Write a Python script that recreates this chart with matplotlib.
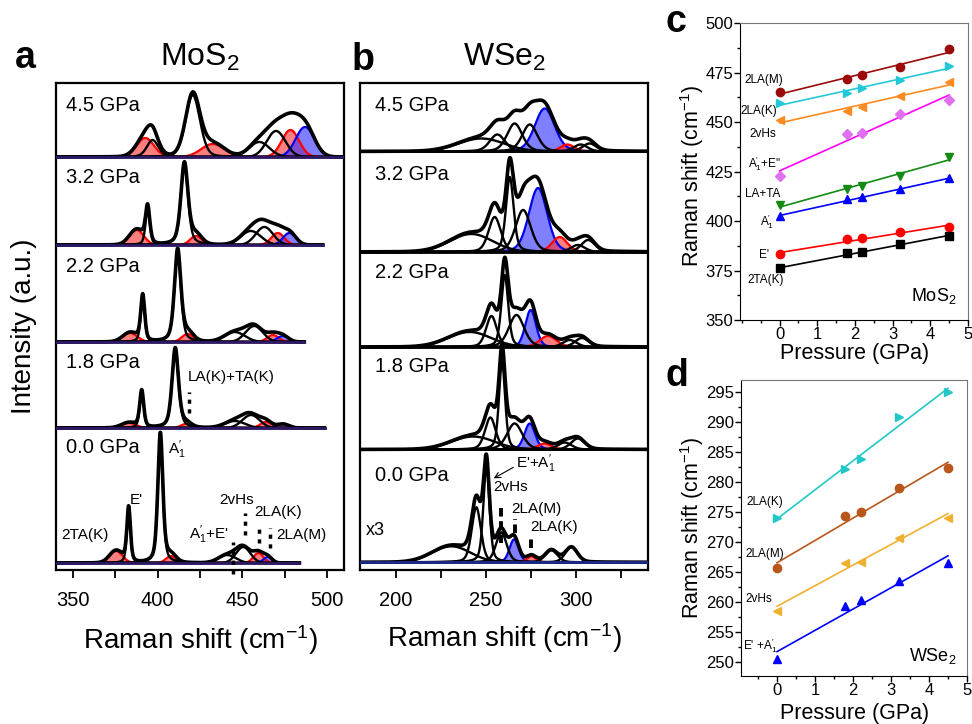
import numpy as np
import matplotlib
matplotlib.use('Agg')
import matplotlib.pyplot as plt
from matplotlib.ticker import MultipleLocator

plt.rcParams['font.family'] = ['Liberation Sans', 'DejaVu Sans']
plt.rcParams['mathtext.fontset'] = 'custom'
plt.rcParams['mathtext.rm'] = 'Liberation Sans'
plt.rcParams['mathtext.it'] = 'Liberation Sans:italic'
plt.rcParams['mathtext.bf'] = 'Liberation Sans:bold'

# ---- data ----
pressure = [0.0, 1.8, 2.2, 3.2, 4.5]

# panel c, MoS2 mode positions (cm-1)
mos2_2LAM = [465.2, 471.9, 473.6, 477.8, 486.7]
mos2_2LAK = [459.6, 464.5, 467.4, 471.1, 478.3]
mos2_2vHs = [451.2, 455.5, 457.6, 463.2, 470.0]
mos2_A1E2 = [422.8, 443.7, 444.5, 454.3, 461.0]
mos2_LATA = [408.0, 416.4, 417.8, 422.6, 432.4]
mos2_A1 = [402.5, 410.9, 411.9, 416.1, 421.5]
mos2_E1 = [383.1, 390.7, 391.2, 394.2, 397.1]
mos2_2TAK = [376.1, 383.6, 384.1, 388.2, 392.5]

# panel d, WSe2 mode positions (cm-1)
wse2_2LAK = [273.9, 282.2, 283.9, 290.8, 295.0]
wse2_2LAM = [265.6, 274.3, 274.9, 278.9, 282.4]
wse2_2vHs = [258.5, 266.5, 266.7, 270.7, 274.0]
wse2_EA1 = [250.4, 259.3, 260.3, 263.4, 266.5]

# fitted Raman components: (colour, centre cm-1, height, fwhm, lorentz fraction)
mos2_peaks = {
    4.5: [('r', 392.7, 19, 12, 0), ('k', 397.0, 17, 8, 0.3), ('k', 420.7, 62, 10, 0.2),
          ('r', 432.5, 13, 16, 0), ('k', 460.0, 15, 14, 0), ('k', 469.9, 26, 13, 0),
          ('r', 478.4, 27, 12, 0), ('b', 487.0, 30, 13, 0)],
    3.2: [('r', 387.6, 15, 10, 0), ('k', 394.1, 36, 3, 0.5), ('k', 415.8, 82, 5, 0.5),
          ('r', 422.6, 9, 8, 0), ('k', 455.0, 14, 14, 0), ('k', 463.0, 18, 12, 0),
          ('r', 470.9, 12, 9, 0), ('b', 477.8, 12, 9, 0)],
    2.2: [('r', 383.7, 9, 10, 0), ('k', 391.2, 46, 2.8, 0.5), ('k', 411.8, 92, 4.5, 0.5),
          ('r', 417.7, 8, 8, 0), ('k', 445.5, 10, 14, 0), ('k', 457.0, 16, 12, 0),
          ('r', 468.0, 7, 8, 0), ('b', 473.9, 6, 8, 0)],
    1.8: [('r', 382.9, 5, 10, 0), ('k', 390.6, 37, 2.8, 0.5), ('k', 410.4, 80, 4.5, 0.5),
          ('r', 416.7, 4, 7, 0), ('k', 445.5, 7, 14, 0), ('k', 455.1, 13, 12, 0),
          ('r', 464.0, 6, 8, 0), ('b', 474.0, 4, 8, 0)],
    0.0: [('r', 375.4, 12, 9, 0), ('k', 382.9, 55, 2.5, 0.5), ('k', 401.6, 130, 3.5, 0.5),
          ('r', 407.9, 7, 7, 0), ('k', 441.0, 8, 12, 0), ('k', 450.5, 16, 10, 0),
          ('r', 459.5, 10, 7, 0), ('b', 465.0, 6, 6, 0)],
}
mos2_end = {4.5: 510, 3.2: 497.5, 2.2: 486.6, 1.8: 498.5, 0.0: 483.7}

wse2_peaks = {
    4.5: [('k', 247.4, 13, 30, 0), ('k', 256.3, 17, 10, 0.3), ('k', 265.9, 28, 10, 0.3),
          ('k', 274.3, 27, 10, 0.3), ('b', 282.6, 43, 13, 0.2), ('r', 295.2, 7, 9, 0.2),
          ('k', 302.5, 7, 9, 0.2), ('k', 307.5, 8, 9, 0.2)],
    3.2: [('k', 241.8, 18, 28, 0), ('k', 254.8, 35, 8, 0.3), ('k', 263.2, 75, 5, 0.4),
          ('k', 270.6, 42, 10, 0.3), ('b', 278.9, 64, 12, 0.2), ('r', 290.9, 15, 10, 0.2),
          ('k', 301.0, 7, 9, 0.2), ('k', 306.7, 12, 9, 0.2)],
    2.2: [('k', 240.9, 15, 28, 0), ('k', 253.0, 31, 7, 0.3), ('k', 260.4, 72, 4.5, 0.4),
          ('k', 266.9, 32, 10, 0.3), ('b', 274.8, 37, 7, 0.2), ('r', 284.4, 11, 11, 0.2),
          ('k', 296.5, 7, 9, 0.2), ('k', 303.3, 9, 9, 0.2)],
    1.8: [('k', 242.8, 13, 28, 0), ('k', 252.4, 32, 7, 0.3), ('k', 258.9, 88, 4, 0.4),
          ('k', 265.9, 26, 10, 0.3), ('b', 274.3, 26, 7, 0.2), ('r', 282.6, 6, 9, 0.2),
          ('k', 293.7, 7, 9, 0.2), ('k', 301.0, 11, 9, 0.2)],
    0.0: [('k', 230.7, 16, 25, 0), ('k', 244.6, 55, 6, 0.3), ('k', 250.2, 96, 4, 0.4),
          ('k', 258.5, 30, 7, 0.3), ('b', 265.6, 23, 6, 0.2), ('r', 275.2, 6, 6, 0.2),
          ('k', 286.3, 12, 8, 0.2), ('k', 297.4, 15, 8, 0.2)],
}

# vertical offsets of each spectrum in the stacks, and label heights
mos2_base = {4.5: 413, 3.2: 325, 2.2: 228, 1.8: 142, 0.0: 7}
mos2_lab_y = {4.5: 464, 3.2: 392, 2.2: 303, 1.8: 207, 0.0: 122}
wse2_base = {4.5: 418.5, 3.2: 318, 2.2: 223, 1.8: 120.5, 0.0: 7.7}
wse2_lab_y = {4.5: 464, 3.2: 395, 2.2: 297, 1.8: 203, 0.0: 94}

FILL = {'r': '#ff2a2a', 'b': '#2a2aff'}
EDGE = {'r': '#ff0000', 'b': '#0000ee'}


def profile(x, c, h, w, eta):
    g = np.exp(-4 * np.log(2) * ((x - c) / w) ** 2)
    l = 1.0 / (1 + 4 * ((x - c) / w) ** 2)
    return h * (eta * l + (1 - eta) * g)


def draw_spectrum(ax, x, peaks, base):
    total = np.zeros_like(x)
    comps = []
    for col, c, h, w, eta in peaks:
        y = profile(x, c, h, w, eta)
        total += y
        comps.append((col, y))
    for col, y in comps:
        if col != 'k':
            ax.fill_between(x, base, base + y, color=FILL[col], alpha=0.6, lw=0, zorder=2)
            ax.plot(x, base + y, color=EDGE[col], lw=1.6, zorder=3)
    for col, y in comps:
        if col == 'k':
            ax.plot(x, base + y, color='k', lw=1.7, zorder=4)
    ax.plot(x, base + total, color='k', lw=2.6, zorder=5)


fig = plt.figure(figsize=(9.72, 7.24), dpi=100)

ax_a = fig.add_axes([0.0576, 0.2127, 0.2963, 0.6727])
ax_b = fig.add_axes([0.3704, 0.2127, 0.2963, 0.6727])
ax_c = fig.add_axes([0.7613, 0.558, 0.2346, 0.4102])
ax_d = fig.add_axes([0.7623, 0.0663, 0.2325, 0.4088])

# ---- panel a ----
for p in pressure:
    x = np.linspace(340, mos2_end[p], 900)
    draw_spectrum(ax_a, x, mos2_peaks[p], mos2_base[p])
    ax_a.plot([340, mos2_end[p]], [mos2_base[p]] * 2, color='#2e1a66', lw=2, zorder=6)
    ax_a.text(346, mos2_lab_y[p], '%.1f GPa' % p, fontsize=14.5, va='center', ha='left')
ax_a.set_xlim(340, 510)
ax_a.set_ylim(0, 487)

ann = 11
A1 = r'$\mathregular{A_1^{\prime}}$'
ax_a.text(357, 35, '2TA(K)', fontsize=ann, ha='center', va='center')
ax_a.text(383.7, 70, "E'", fontsize=ann, ha='left', va='center')
ax_a.text(405.9, 120, A1, fontsize=ann, ha='left', va='center')
ax_a.text(436.2, 70, '2vHs', fontsize=ann, ha='left', va='center')
ax_a.text(457, 58, '2LA(K)', fontsize=ann, ha='left', va='center')
ax_a.text(418.5, 35, A1 + "+E'", fontsize=ann, ha='left', va='center')
ax_a.text(470, 35, '2LA(M)', fontsize=ann, ha='left', va='center')
ax_a.text(417.7, 193, 'LA(K)+TA(K)', fontsize=ann, ha='left', va='center')
for xv, y0, y1 in [(418.3, 157, 178), (451.8, 35, 57), (460, 27, 44), (466.4, 22, 42), (444.3, -4, 28)]:
    ax_a.plot([xv, xv], [y0, y1], color='k', lw=2.5, ls=(0, (1.2, 1.6)), zorder=7, clip_on=False)

# ---- panel b ----
for p in pressure:
    x = np.linspace(180, 340, 900)
    draw_spectrum(ax_b, x, wse2_peaks[p], wse2_base[p])
    if p == 0.0:
        ax_b.axhline(wse2_base[p], color='#1c2a8c', lw=2, zorder=6)
    else:
        ax_b.axhline(wse2_base[p], color='k', lw=2, zorder=6)
    ax_b.text(188.3, wse2_lab_y[p], '%.1f GPa' % p, fontsize=14.5, va='center', ha='left')
ax_b.set_xlim(180, 340)
ax_b.set_ylim(0, 487)
ax_b.text(266.7, 106, "E'+" + A1, fontsize=ann, ha='left', va='center')
ax_b.annotate('', xy=(252.9, 90.3), xytext=(266.5, 104),
              arrowprops=dict(arrowstyle='->', color='k', lw=0.8), zorder=8)
ax_b.text(253.9, 83, '2vHs', fontsize=ann, ha='left', va='center')
ax_b.text(264, 61, '2LA(M)', fontsize=ann, ha='left', va='center')
ax_b.text(274.4, 43, '2LA(K)', fontsize=ann, ha='left', va='center')
ax_b.text(183.3, 40, 'x3', fontsize=13, ha='left', va='center')
for xv, y0, y1 in [(258.5, 27, 63.7), (265.9, 37, 51), (275.2, 22, 33.7)]:
    ax_b.plot([xv, xv], [y0, y1], color='k', lw=2.8, ls=(0, (2.2, 1.2)), zorder=7)

for ax in (ax_a, ax_b):
    ax.xaxis.set_major_locator(MultipleLocator(50))
    ax.xaxis.set_minor_locator(MultipleLocator(25))
    ax.tick_params(axis='x', which='both', direction='out', length=6, width=1.3,
                   labelsize=14.5, pad=9)
    ax.set_yticks([])
    for s in ax.spines.values():
        s.set_linewidth(1.6)

# ---- panels c and d ----
c_series = [
    (mos2_2LAM, 'o', '#9b0a0a', '#9b0a0a', '2LA(M)', -0.42, 471),
    (mos2_2LAK, '>', '#22c8d8', '#22c8d8', '2LA(K)', -0.54, 455.6),
    (mos2_2vHs, '<', '#ff8a1f', '#ff8a1f', '2vHs', -0.45, 444),
    (mos2_A1E2, 'D', '#e070f0', '#ff00ff', r"$\mathregular{A_1^{\prime}}$+E''", -0.4, 429),
    (mos2_LATA, 'v', '#138a13', '#138a13', 'LA+TA', -0.45, 413.6),
    (mos2_A1, '^', '#0000ff', '#0000ff', r'$\mathregular{A_1^{\prime}}$', -0.34, 399.6),
    (mos2_E1, 'o', '#ff0000', '#ff0000', "E'", -0.4, 382.8),
    (mos2_2TAK, 's', '#000000', '#000000', '2TA(K)', -0.37, 370),
]
d_series = [
    (wse2_2LAK, '>', '#22c8c8', '#22c8c8', '2LA(K)', -0.31, 276.7),
    (wse2_2LAM, 'o', '#b8561b', '#b8561b', '2LA(M)', -0.31, 268),
    (wse2_2vHs, '<', '#f0b030', '#f0b030', '2vHs', -0.48, 260.4),
    (wse2_EA1, '^', '#0000ff', '#0000ff', r"E' +$\mathregular{A_1^{\prime}}$", -0.44, 252.7),
]
px = np.array(pressure)
xfit = np.array([0, 4.5])
for ax, series in [(ax_c, c_series), (ax_d, d_series)]:
    for vals, mk, mcol, lcol, lab, lx, ly in series:
        k, b0 = np.polyfit(px, vals, 1)
        ax.plot(xfit, k * xfit + b0, color=lcol, lw=1.2, zorder=2)
        ax.plot(px, vals, ls='none', marker=mk, color=mcol, ms=6 if mk != 'D' else 5,
                zorder=3)
        ax.text(lx, ly, lab, fontsize=8.5, ha='center', va='center')
    ax.set_xticks([0, 1, 2, 3, 4, 5])
    ax.xaxis.set_minor_locator(MultipleLocator(0.5))
    ax.tick_params(which='both', direction='out', labelsize=12, pad=1, width=1)
    ax.tick_params(which='major', length=4)
    ax.tick_params(which='minor', length=2.5)
    ax.spines['top'].set_color('#777777')
    ax.spines['right'].set_color('#777777')

ax_c.set_xlim(-1.05, 5)
ax_c.set_ylim(350, 500)
ax_c.yaxis.set_major_locator(MultipleLocator(25))
ax_c.yaxis.set_minor_locator(MultipleLocator(12.5))
ax_c.text(4.1, 362, r'MoS$_\mathregular{2}$', fontsize=13, ha='center', va='center')

ax_d.set_xlim(-0.95, 5)
ax_d.set_ylim(247.6, 297)
ax_d.yaxis.set_major_locator(MultipleLocator(5))
ax_d.yaxis.set_minor_locator(MultipleLocator(2.5))
ax_d.text(4.1, 251, r'WSe$_\mathregular{2}$', fontsize=13, ha='center', va='center')

# ---- figure texts ----
W, H = 972.0, 724.0
rs = r'Raman shift (cm$^{\mathregular{-1}}$)'
fig.text(24 / W, 1 - 326 / H, 'Intensity (a.u.)', rotation=90, fontsize=20, ha='center', va='center')
fig.text(200 / W, 1 - 640 / H, rs, fontsize=20, ha='center', va='center')
fig.text(504 / W, 1 - 638 / H, rs, fontsize=20, ha='center', va='center')
fig.text(200 / W, 1 - 57 / H, r'MoS$_\mathregular{2}$', fontsize=23, ha='center', va='center')
fig.text(505 / W, 1 - 57 / H, r'WSe$_\mathregular{2}$', fontsize=23, ha='center', va='center')
fig.text(692 / W, 1 - 176 / H, rs, rotation=90, fontsize=15.5, ha='center', va='center')
fig.text(692 / W, 1 - 528 / H, rs, rotation=90, fontsize=15.5, ha='center', va='center')
fig.text(855 / W, 1 - 354 / H, 'Pressure (GPa)', fontsize=15.5, ha='center', va='center')
fig.text(855 / W, 1 - 713 / H, 'Pressure (GPa)', fontsize=15.5, ha='center', va='center')
fig.text(25 / W, 1 - 58 / H, 'a', fontsize=27, fontweight='bold', ha='center', va='center')
fig.text(363 / W, 1 - 60 / H, 'b', fontsize=27, fontweight='bold', ha='center', va='center')
fig.text(676 / W, 1 - 22 / H, 'c', fontsize=27, fontweight='bold', ha='center', va='center')
fig.text(677 / W, 1 - 376 / H, 'd', fontsize=27, fontweight='bold', ha='center', va='center')

fig.savefig('out.png', dpi=100)
